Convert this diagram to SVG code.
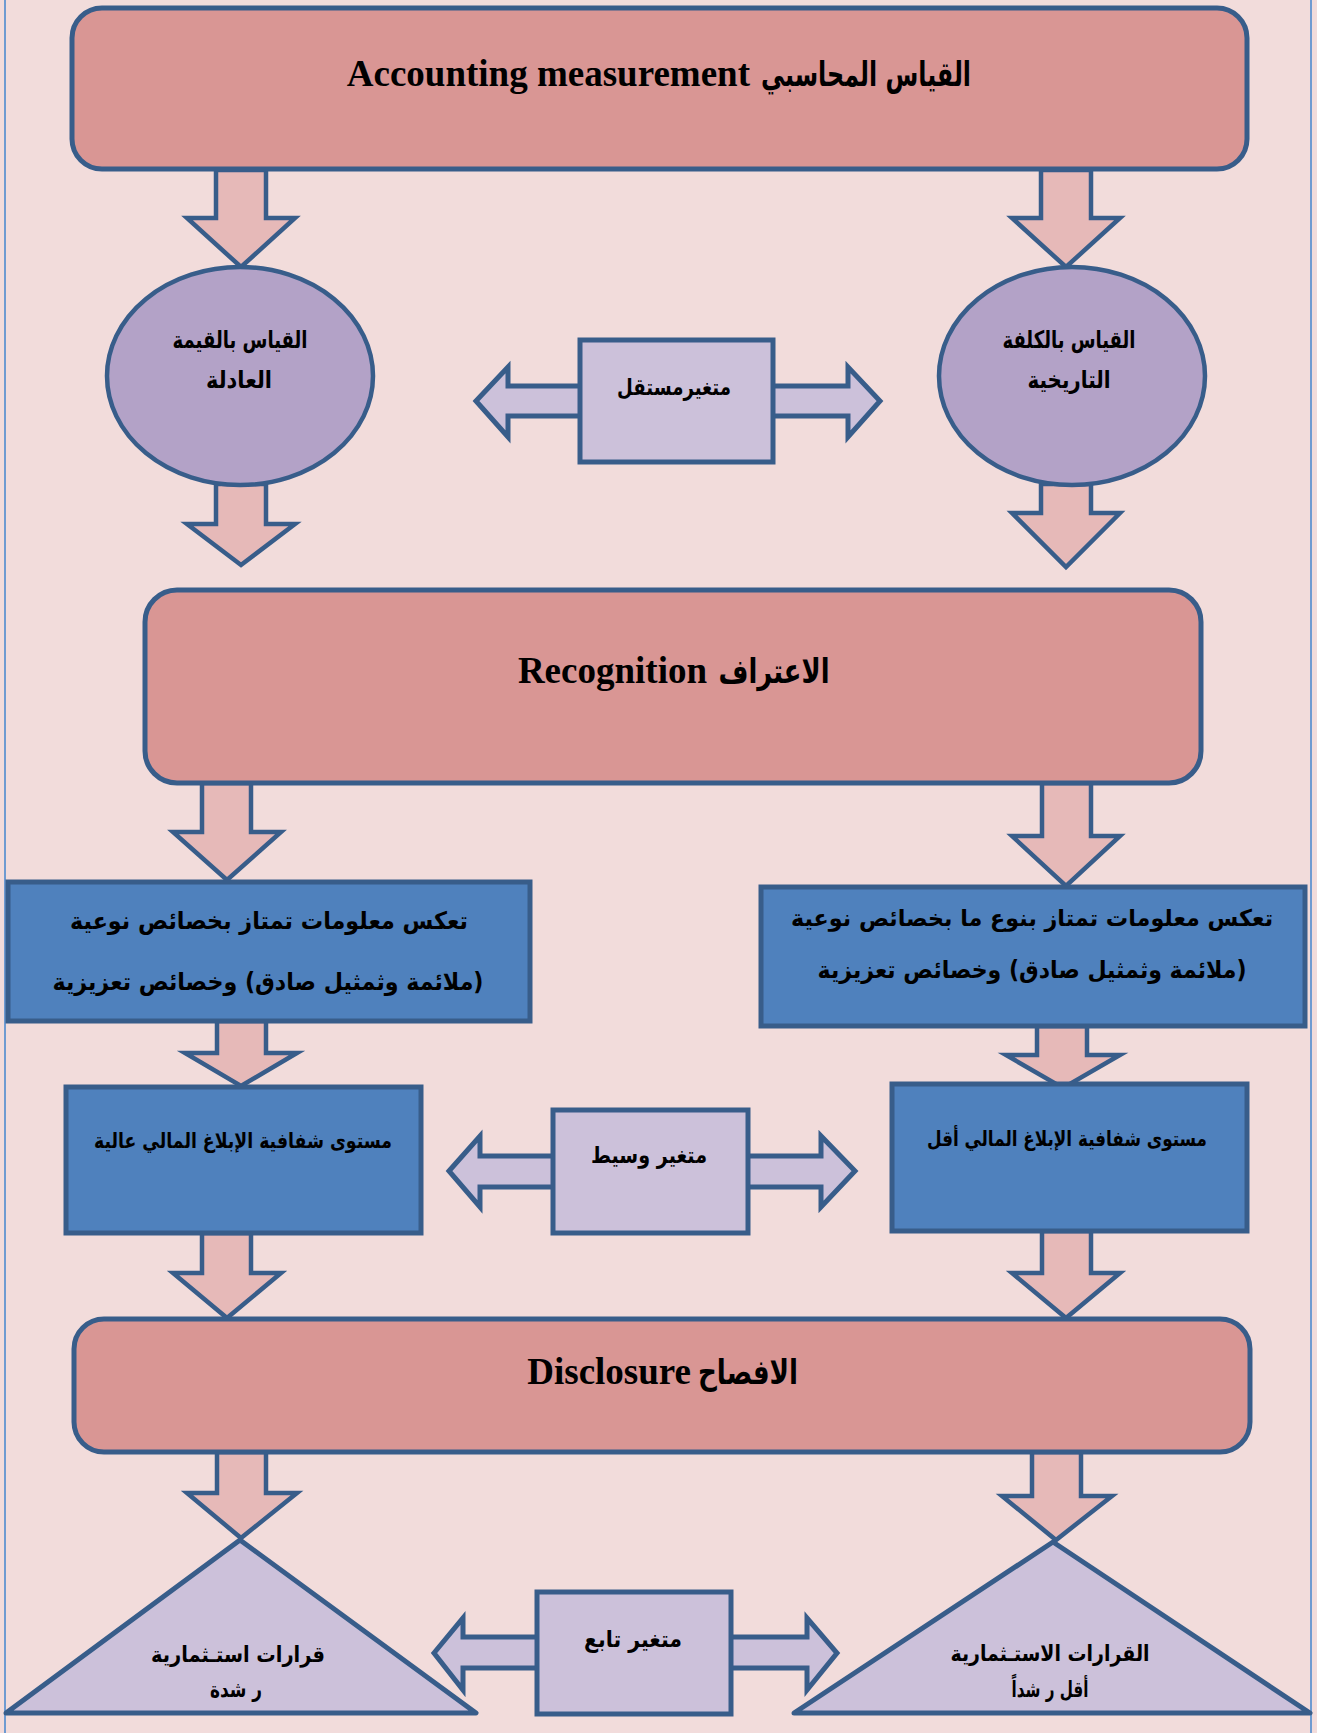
<svg xmlns="http://www.w3.org/2000/svg" width="1317" height="1733" viewBox="0 0 1317 1733">
<style>
.bg{fill:#F2DCDB}
.edge{stroke:#6F9BD1;stroke-width:2}
.big{fill:#D99694;stroke:#385D8A;stroke-width:5}
.ell{fill:#B3A2C7;stroke:#385D8A;stroke-width:4.5}
.blue{fill:#4F81BD;stroke:#385D8A;stroke-width:5}
.lav{fill:#CCC1DA;stroke:#385D8A;stroke-width:5}
.arr{fill:#E6B9B8;stroke:#385D8A;stroke-width:4.5;stroke-linejoin:miter}
.dbl{fill:#CCC1DA;stroke:#385D8A;stroke-width:5;stroke-linejoin:miter}
.en{font-family:"Liberation Serif",serif;font-weight:bold;font-size:37px;fill:#000;text-anchor:end}
.ha{font-family:"DejaVu Sans","Liberation Sans",sans-serif;font-weight:bold;font-size:34px;fill:#000;text-anchor:middle}
.ar{font-family:"DejaVu Sans","Liberation Sans",sans-serif;font-weight:bold;fill:#000;text-anchor:middle}
</style>
<rect class="bg" x="0" y="0" width="1317" height="1733"/>
<line class="edge" x1="5" y1="0" x2="5" y2="1733"/>
<line class="edge" x1="1311" y1="0" x2="1311" y2="1733"/>

<g id="connectors">
  <polygon class="arr" points="216,170 266,170 266,218 295,218 241,267 187,218 216,218"/>
  <polygon class="arr" points="1041,170 1091,170 1091,218 1120,218 1066,267 1012,218 1041,218"/>
  <polygon class="arr" points="216,484 266,484 266,524 295,524 241,565 187,524 216,524"/>
  <polygon class="arr" points="1041,484 1091,484 1091,513 1120,513 1066,567 1012,513 1041,513"/>
  <polygon class="arr" points="202,783 251,783 251,832 281,832 227,880 173,832 202,832"/>
  <polygon class="arr" points="1042,783 1091,783 1091,836 1120,836 1066,886 1012,836 1042,836"/>
  <polygon class="arr" points="217,1021 266,1021 266,1053 297,1053 241,1086 185,1053 217,1053"/>
  <polygon class="arr" points="1037,1026 1087,1026 1087,1055 1120,1055 1063,1088 1006,1055 1037,1055"/>
  <polygon class="arr" points="202,1233 251,1233 251,1273 281,1273 227,1318 173,1273 202,1273"/>
  <polygon class="arr" points="1042,1231 1091,1231 1091,1273 1120,1273 1066,1318 1012,1273 1042,1273"/>
  <polygon class="arr" points="217,1452 266,1452 266,1493 297,1493 241,1538 187,1493 217,1493"/>
  <polygon class="arr" points="1032,1452 1081,1452 1081,1496 1112,1496 1056,1540 1002,1496 1032,1496"/>
  <polygon class="dbl" points="476,401 508,367 508,386 848,386 848,367 880,401 848,437 848,416 508,416 508,437"/>
  <polygon class="dbl" points="449,1171 480,1136 480,1156 821,1156 821,1136 855,1171 821,1207 821,1187 480,1187 480,1207"/>
  <polygon class="dbl" points="434,1653 463,1618 463,1637 807,1637 807,1618 837,1653 807,1690 807,1668 463,1668 463,1690"/>
</g>

<g id="measurement">
  <rect class="big" x="72" y="8" width="1175" height="161" rx="30" ry="30"/>
  <text class="en" x="750" y="86">Accounting measurement</text>
  <text class="ha" x="866" y="86" direction="rtl" textLength="210" lengthAdjust="spacingAndGlyphs">القياس المحاسبي</text>
</g>
<g id="fair-value">
  <ellipse class="ell" cx="240" cy="376" rx="133" ry="109"/>
  <text class="ar" font-size="24" x="240" y="348" direction="rtl" textLength="135" lengthAdjust="spacingAndGlyphs">القياس بالقيمة</text>
  <text class="ar" font-size="24" x="239" y="388" direction="rtl" textLength="66" lengthAdjust="spacingAndGlyphs">العادلة</text>
</g>
<g id="historical-cost">
  <ellipse class="ell" cx="1072" cy="376" rx="133" ry="109"/>
  <text class="ar" font-size="24" x="1069" y="348" direction="rtl" textLength="133" lengthAdjust="spacingAndGlyphs">القياس بالكلفة</text>
  <text class="ar" font-size="24" x="1069" y="388" direction="rtl" textLength="83" lengthAdjust="spacingAndGlyphs">التاريخية</text>
</g>
<g id="independent">
  <rect class="lav" x="580" y="340" width="193" height="122"/>
  <text class="ar" font-size="23" x="674" y="395" direction="rtl" textLength="114" lengthAdjust="spacingAndGlyphs">متغيرمستقل</text>
</g>
<g id="recognition">
  <rect class="big" x="145" y="590" width="1056" height="193" rx="32" ry="32"/>
  <text class="en" x="707" y="683">Recognition</text>
  <text class="ha" x="774" y="683" direction="rtl" textLength="111" lengthAdjust="spacingAndGlyphs">الاعتراف</text>
</g>
<g id="info-left">
  <rect class="blue" x="8" y="882" width="522" height="139"/>
  <text class="ar" font-size="24" x="269" y="929" direction="rtl" textLength="398" lengthAdjust="spacingAndGlyphs">تعكس معلومات تمتاز بخصائص نوعية</text>
  <text class="ar" font-size="24" x="268" y="990" direction="rtl" textLength="431" lengthAdjust="spacingAndGlyphs">(ملائمة وثمثيل صادق) وخصائص تعزيزية</text>
</g>
<g id="info-right">
  <rect class="blue" x="761" y="887" width="544" height="139"/>
  <text class="ar" font-size="23" x="1032" y="926" direction="rtl" textLength="482" lengthAdjust="spacingAndGlyphs">تعكس معلومات تمتاز بنوع ما بخصائص نوعية</text>
  <text class="ar" font-size="24" x="1032" y="978" direction="rtl" textLength="429" lengthAdjust="spacingAndGlyphs">(ملائمة وثمثيل صادق) وخصائص تعزيزية</text>
</g>
<g id="transparency-high">
  <rect class="blue" x="66" y="1087" width="355" height="146"/>
  <text class="ar" font-size="21" x="243" y="1148" direction="rtl" textLength="298" lengthAdjust="spacingAndGlyphs">مستوى شفافية الإبلاغ المالي عالية</text>
</g>
<g id="mediator">
  <rect class="lav" x="553" y="1110" width="195" height="123"/>
  <text class="ar" font-size="23" x="649" y="1163" direction="rtl" textLength="116" lengthAdjust="spacingAndGlyphs">متغير وسيط</text>
</g>
<g id="transparency-low">
  <rect class="blue" x="892" y="1084" width="355" height="147"/>
  <text class="ar" font-size="21" x="1067" y="1146" direction="rtl" textLength="280" lengthAdjust="spacingAndGlyphs">مستوى شفافية الإبلاغ المالي أقل</text>
</g>
<g id="disclosure">
  <rect class="big" x="74" y="1319" width="1176" height="133" rx="30" ry="30"/>
  <text class="en" x="691" y="1384">Disclosure</text>
  <text class="ha" x="748" y="1384" direction="rtl" textLength="100" lengthAdjust="spacingAndGlyphs">الافصاح</text>
</g>
<g id="decisions-left">
  <polygon class="lav" points="240,1540 476,1713 6,1713" stroke-linejoin="round"/>
  <text class="ar" font-size="22" x="238" y="1662" direction="rtl" textLength="174" lengthAdjust="spacingAndGlyphs">قرارات استـثمارية</text>
  <text class="ar" font-size="22" x="236" y="1697" direction="rtl" textLength="52" lengthAdjust="spacingAndGlyphs">ر شدة</text>
</g>
<g id="dependent">
  <rect class="lav" x="537" y="1592" width="194" height="122"/>
  <text class="ar" font-size="23" x="633" y="1647" direction="rtl" textLength="98" lengthAdjust="spacingAndGlyphs">متغير تابع</text>
</g>
<g id="decisions-right">
  <polygon class="lav" points="1053,1542 1310,1713 794,1713" stroke-linejoin="round"/>
  <text class="ar" font-size="22" x="1050" y="1661" direction="rtl" textLength="199" lengthAdjust="spacingAndGlyphs">القرارات الاستـثمارية</text>
  <text class="ar" font-size="22" x="1050" y="1697" direction="rtl" textLength="77" lengthAdjust="spacingAndGlyphs">أقل ر شداً</text>
</g>
</svg>
